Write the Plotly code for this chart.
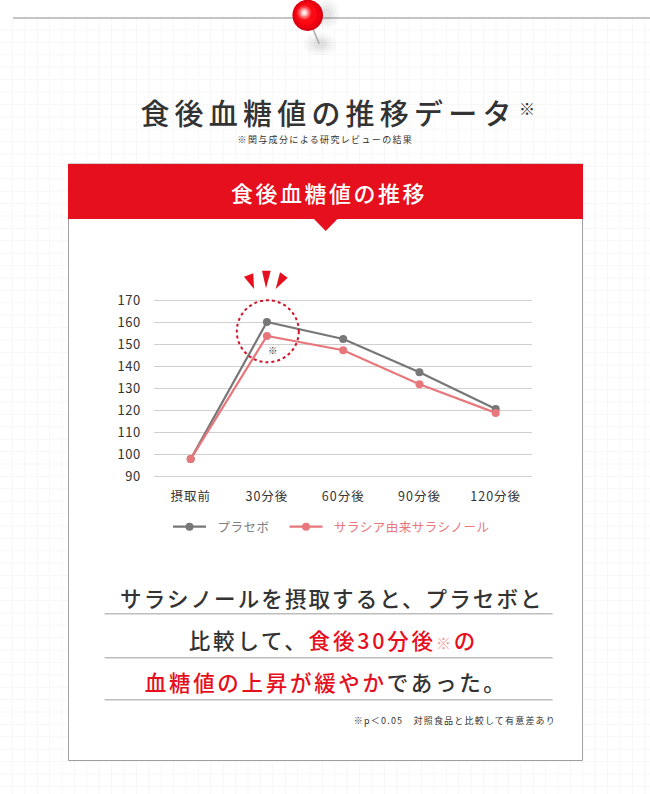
import plotly.graph_objects as go

W, H = 650, 794

# ---- data ----
categories = ["摂取前", "30分後", "60分後", "90分後", "120分後"]
placebo = [98, 160.3, 152.6, 137.5, 120.8]
salacinol = [98, 154, 147.5, 132, 119]
y_ticks = [90, 100, 110, 120, 130, 140, 150, 160, 170]
series_names = ["プラセボ", "サラシア由来サラシノール"]

GRAY = "#777777"
PINK = "#e8777c"
RED = "#e60f1e"
DARK = "#2b2b2b"
FONT = "Noto Sans CJK JP"


def fx(x):
    return x / W


def fy(y):
    return 1 - y / H


def rect(x0, y0, x1, y1, fill="rgba(0,0,0,0)", line=None, width=0, layer="below"):
    return dict(type="rect", xref="paper", yref="paper", x0=fx(x0), x1=fx(x1), y0=fy(y0), y1=fy(y1),
                fillcolor=fill, line=dict(color=line or "rgba(0,0,0,0)", width=width), layer=layer)


def hline(x0, x1, y, color, width=1, layer="below"):
    return dict(type="line", xref="paper", yref="paper", x0=fx(x0), x1=fx(x1), y0=fy(y), y1=fy(y),
                line=dict(color=color, width=width), layer=layer)


def oval(cx, cy, rx, ry, fill, layer="above", line=None, width=0, dash=None):
    ln = dict(color=line or "rgba(0,0,0,0)", width=width)
    if dash:
        ln["dash"] = dash
    return dict(type="circle", xref="paper", yref="paper", x0=fx(cx - rx), x1=fx(cx + rx),
                y0=fy(cy - ry), y1=fy(cy + ry), fillcolor=fill, line=ln, layer=layer)


def poly(points, fill, layer="above", line=None, width=0):
    p = "M " + " L ".join(f"{fx(a):.5f},{fy(b):.5f}" for a, b in points) + " Z"
    return dict(type="path", xref="paper", yref="paper", path=p, fillcolor=fill,
                line=dict(color=line or "rgba(0,0,0,0)", width=width), layer=layer)


shapes = []

# faint paper grid
STEP = 12.4
grid = []
x = 12.4
while x < W:
    grid.append(f"M {fx(x):.5f},{fy(18):.5f} L {fx(x):.5f},0")
    x += STEP
y = 30.0
while y < H:
    grid.append(f"M 0,{fy(y):.5f} L 1,{fy(y):.5f}")
    y += STEP
shapes.append(dict(type="path", xref="paper", yref="paper", path=" ".join(grid),
                   line=dict(color="#f7f7f7", width=1), layer="below"))

# top rule
shapes.append(hline(13, 650, 18, "#8a8a8a", 1))

# card + banner
shapes.append(rect(68.5, 164, 582.5, 760.5, "#ffffff", "#a0a0a0", 1))
shapes.append(rect(68, 164, 583, 219, RED))
shapes.append(poly([(314, 219), (337.5, 219), (325.7, 231)], RED))

# text rules
for ry in (613.7, 657.7, 699.7):
    shapes.append(hline(104.6, 552.6, ry, "#bdbdbd", 1.5))

# attention marks
shapes.append(poly([(244, 276.7), (253.3, 273.3), (254, 289)], RED))
shapes.append(poly([(262, 270.7), (270.7, 270.7), (266, 288.3)], RED))
shapes.append(poly([(280, 272.3), (287.7, 277.7), (275.7, 289)], RED))
shapes.append(oval(267.8, 331.3, 31, 31, "rgba(0,0,0,0)", line="#d0142a", width=2, dash="dot"))

# pin shadows
for r, a in ((15, .035), (12, .04), (9, .05), (6, .06)):
    shapes.append(oval(320, 44, r * 1.1, r * .75, f"rgba(90,90,90,{a})"))
    shapes.append(oval(326, 14, r * .9, r, f"rgba(90,90,90,{a})"))
# needle
shapes.append(dict(type="line", xref="paper", yref="paper", x0=fx(313), y0=fy(29), x1=fx(319.3), y1=fy(44),
                   line=dict(color="#a8a8a8", width=1.5), layer="above"))
# pin head
shapes.append(oval(307.7, 15.3, 15.3, 15.6, "#d90010"))
shapes.append(oval(307.3, 14.8, 13.5, 13.8, "#ee0010"))
shapes.append(oval(306.5, 14, 10.5, 11, "#fb0a14"))
for r, col in ((7, "#ff3a40"), (5.2, "#ff7478"), (3.6, "#ffb0b2"), (2.2, "#ffe8e8")):
    shapes.append(oval(304.3, 12.7, r, r, col))

fig = go.Figure()
fig.add_trace(go.Scatter(x=list(range(5)), y=placebo, name=series_names[0], mode="lines+markers",
                         line=dict(color=GRAY, width=2.2), marker=dict(color=GRAY, size=8)))
fig.add_trace(go.Scatter(x=list(range(5)), y=salacinol,
                         name=f'<span style="color:{PINK}">{series_names[1]}</span>',
                         mode="lines+markers",
                         line=dict(color=PINK, width=2.2), marker=dict(color=PINK, size=8)))


def note(text, x, y, size, color=DARK, anchor="center", weight=400):
    return dict(text=text, xref="paper", yref="paper", x=fx(x), y=fy(y), xanchor=anchor, yanchor="middle",
                showarrow=False, font=dict(family=FONT, size=size, color=color, weight=weight))


def red(s):
    return f'<span style="color:{RED}">{s}</span>'


annotations = [
    note("食後血糖値の推移データ", 328.5, 112, 29, "#333333", weight=500),          # 0
    note("※", 527, 108, 16, "#333333"),                                          # 1
    note("※関与成分による研究レビューの結果", 325, 140, 9, "#333333"),              # 2
    note("食後血糖値の推移", 329, 192, 22, "#ffffff", weight=500),                 # 3
    note("サラシノールを摂取すると、プラセボと", 331.5, 597, 21.5, "#333333", weight=500),  # 4
    note("比較して、" + red("食後30分後") + '<span style="color:#f0a0a5;font-size:15px">※</span>' + red("の"),
         333, 639.5, 21.5, "#333333", weight=500),                                # 5
    note(red("血糖値の上昇が緩やか") + "であった。", 325.5, 681.5, 21.5, "#333333", weight=500),  # 6
    note("※p＜0.05　対照食品と比較して有意差あり", 544.5, 720.5, 9, "#333333", anchor="right"),  # 7
    note("※", 273, 350, 9.5, "#333333"),                                         # 8
]

fig.update_layout(
    width=W, height=H, margin=dict(l=0, r=0, t=0, b=0), autosize=False,
    paper_bgcolor="#ffffff", plot_bgcolor="rgba(0,0,0,0)",
    font=dict(family=FONT, color="#333333", size=12.5),
    shapes=shapes, annotations=annotations, hovermode=False,
    xaxis=dict(domain=[fx(154), fx(532)], range=[-0.481, 4.476], tickmode="array",
               tickvals=list(range(5)), ticktext=categories, showgrid=False, zeroline=False,
               showline=False, ticks="outside", ticklen=6.7, tickcolor="rgba(0,0,0,0)", automargin=False,
               tickfont=dict(size=12.5, color="#333333")),
    yaxis=dict(domain=[fy(478.02), fy(299.38)], range=[89.4, 170.6], tickmode="array", tickvals=y_ticks,
               showgrid=True, gridcolor="#d0d0d0", gridwidth=1.3, zeroline=False, showline=False,
               ticks="outside", ticklen=9.5, tickcolor="rgba(0,0,0,0)", automargin=False,
               tickfont=dict(size=13, color="#333333")),
    legend=dict(orientation="h", x=fx(168), y=fy(527), xanchor="left", yanchor="middle",
                font=dict(family=FONT, size=12.5, color="#808080"), bgcolor="rgba(0,0,0,0)",
                entrywidth=68.5, entrywidthmode="pixels", itemwidth=33, traceorder="normal"),
)

css = """
html,body{margin:0;padding:0;overflow:hidden;background:#fff}
.annotation[data-index="0"] text{letter-spacing:5.2px}
.annotation[data-index="2"] text{letter-spacing:1.35px}
.annotation[data-index="3"] text{letter-spacing:2.5px}
.annotation[data-index="4"] text{letter-spacing:2.1px}
.annotation[data-index="5"] text{letter-spacing:2.8px}
.annotation[data-index="6"] text{letter-spacing:2.7px}
.annotation[data-index="7"] text{letter-spacing:1.2px}
.xtick text{letter-spacing:1px}
.ytick text{letter-spacing:0.6px}
.legendtext{letter-spacing:0.5px;transform:translateX(6.5px)}
.legend .scrollbox{clip-path:none !important}
.legend .traces, .legend .groups{clip-path:none !important}
.legend{overflow:visible}
"""
post = "var s=document.createElement('style');s.textContent=" + repr(css) + ";document.head.appendChild(s);"

fig.write_html("out.html", post_script=post, config=dict(displayModeBar=False, responsive=False))
